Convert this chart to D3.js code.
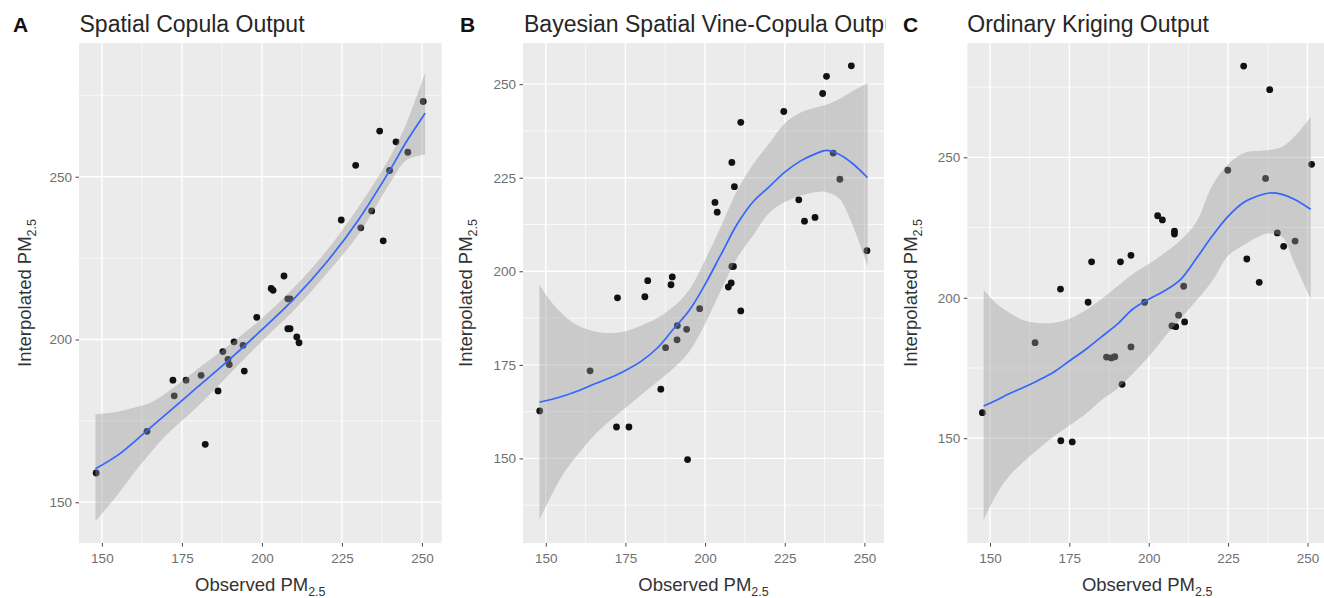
<!DOCTYPE html>
<html><head><meta charset="utf-8">
<script src="https://cdn.jsdelivr.net/npm/d3@7"></script>
<style>body{margin:0;background:#fff}svg{display:block}text{font-family:"Liberation Sans",Arial,sans-serif}</style>
</head><body>
<svg id="chart" width="1324" height="598"></svg>
<script>
// ---------- data ----------
const panelLabels = ["A", "B", "C"];
const panelTitles = ["Spatial Copula Output", "Bayesian Spatial Vine-Copula Output", "Ordinary Kriging Output"];
const xTitle = "Observed PM";
const yTitle = "Interpolated PM";
const subscript = "2.5";
const xTicks = [150, 175, 200, 225, 250];
const xMinor = [162.5, 187.5, 212.5, 237.5];
const xDomain = [142.85, 256.15];

const yTicksA = [150, 200, 250];
const yMinorA = [175, 225, 275];
const yDomainA = [137.5, 291.06];
const yTicksB = [150, 175, 200, 225, 250];
const yMinorB = [137.5, 162.5, 187.5, 212.5, 237.5];
const yDomainB = [127.4, 261];
const yTicksC = [150, 200, 250];
const yMinorC = [125, 175, 225, 275];
const yDomainC = [112.7, 290.7];

// panel A points
const obsA = [148.2,164.1,172.2,172.6,176.3,181.0,182.3,186.3,187.8,189.4,189.8,191.3,194.1,194.5,198.4,202.9,203.5,206.9,208.1,208.8,208.1,208.8,210.9,211.6,224.8,229.3,230.9,234.3,236.8,237.9,239.9,241.9,245.6,250.4];
const interpA = [159.0,171.8,187.5,182.7,187.5,189.0,167.8,184.2,196.3,193.9,192.3,199.3,198.2,190.3,206.8,215.7,215.1,219.5,212.5,212.5,203.3,203.3,200.8,199.0,236.7,253.5,234.3,239.5,264.0,230.3,251.9,260.7,257.5,273.1];
// panel B points
const obsB = [148.1,163.9,172.5,172.2,176.1,182.0,181.1,186.1,189.7,189.3,187.6,191.3,191.2,194.2,194.5,198.3,203.1,203.8,208.4,209.2,211.2,208.4,208.9,208.2,207.3,211.2,224.7,229.4,231.2,234.5,236.9,238.1,240.2,242.3,245.9,250.8];
const interpB = [162.7,173.4,192.9,158.4,158.4,197.5,193.2,168.5,198.5,196.4,179.6,185.5,181.7,184.5,149.7,190.0,218.4,215.8,229.1,222.6,239.8,201.3,201.3,196.9,195.8,189.4,242.7,219.1,213.4,214.4,247.5,252.1,231.6,224.6,254.9,205.5];
// panel C points
const obsC = [147.6,164.2,172.3,175.9,172.2,182.0,180.9,191.1,194.4,186.7,188.2,189.3,191.6,194.4,198.7,202.8,204.3,208.1,208.1,211.0,209.4,211.3,207.3,208.5,224.9,229.9,230.9,234.8,236.8,238.1,240.5,242.5,246.1,251.3];
const interpC = [159.1,184.0,149.1,148.7,203.1,212.8,198.4,212.8,215.1,178.9,178.6,179.0,169.2,182.5,198.4,229.2,227.7,223.7,222.7,204.1,193.8,191.4,190.0,189.7,245.4,282.5,213.8,205.5,242.5,274.1,223.1,218.3,220.2,247.5];

// smooth fits
const smoothXA = [148,155,160,165,170,180,190,200,210,220,230,240,245,251];
const fitA   = [160.3,164.5,168.5,172.8,177,185.5,194,203,212.5,223.5,236.5,252,260.5,269.5];
const upperA = [177,177.8,179,180.5,183.5,191,198.5,206.5,216,227,240.5,256,266,282];
const lowerA = [144.2,152.5,159,165,170.5,179.5,189.5,199.5,209,220,232,248,255,256.8];

const smoothXB = [148,152,156,160,165,170,175,180,185,190,195,200,205,210,215,220,225,230,235,238,242,246,251];
const fitB   = [165,165.8,166.8,168,169.8,171.5,173.5,176,179.5,184.5,189.5,196.5,204.5,212.5,218.5,222.5,226.5,229.5,231.5,232.3,231.3,229,225];
const upperB = [196.4,191.5,188,185.5,184,183.5,184,185.5,187.5,190.5,195,203,212,221.5,228.5,234,239.5,242.4,243.8,244.5,246,248,250.3];
const lowerB = [133.6,140.5,146.5,151,156,160,163.5,167,170.5,174,178.5,186,195,203.5,209.5,215.5,218.5,220.2,221.2,221.2,219.5,213,201.3];

const smoothXC = [148,152,156,160,165,170,175,180,185,190,195,200,205,210,215,220,225,230,235,238,242,246,251];
const fitC   = [161.5,163.5,165.8,167.8,170.5,173.5,177.5,181.5,186,190.5,196,199.5,202.5,206.5,214,222,229,234,236.5,237.3,236.8,235,231.5];
const upperC = [202.8,198,194.8,192.3,191,191,192.5,195.5,199.5,204,208.5,212,216,220.5,227,240,247.5,251.5,252.3,252.6,253.8,257.5,264.4];
const lowerC = [120.9,130,136.5,141,146,150.5,154.5,158.5,163.5,167.5,173,179,186,192.5,199,206,215,218.8,222,223,221.7,212,199.5];

// ---------- layout ----------
const plotTop = 43, plotBottom = 543;
const panels = [
  {left: 79, right: 441.6, cellX: 0, cellW: 445, labelX: 13, titleX: 79.5, yTitleX: 31, yTicks: yTicksA, yMinor: yMinorA, yDomain: yDomainA,
   obs: obsA, interp: interpA, sx: smoothXA, fit: fitA, up: upperA, lo: lowerA},
  {left: 523, right: 884, cellX: 445, cellW: 441, labelX: 460, titleX: 524, yTitleX: 472, yTicks: yTicksB, yMinor: yMinorB, yDomain: yDomainB,
   obs: obsB, interp: interpB, sx: smoothXB, fit: fitB, up: upperB, lo: lowerB},
  {left: 967.3, right: 1327, cellX: 886, cellW: 438, labelX: 903, titleX: 967.3, yTitleX: 917, yTicks: yTicksC, yMinor: yMinorC, yDomain: yDomainC,
   obs: obsC, interp: interpC, sx: smoothXC, fit: fitC, up: upperC, lo: lowerC}
];

const svg = d3.select("#chart");
const defs = svg.append("defs");

panels.forEach((p, i) => {
  defs.append("clipPath").attr("id", "cell" + i)
    .append("rect").attr("x", p.cellX).attr("y", 0).attr("width", p.cellW).attr("height", 598);
  defs.append("clipPath").attr("id", "plot" + i)
    .append("rect").attr("x", p.left).attr("y", plotTop).attr("width", p.right - p.left).attr("height", plotBottom - plotTop);

  const g = svg.append("g").attr("clip-path", `url(#cell${i})`);
  const x = d3.scaleLinear().domain(xDomain).range([p.left, p.right]);
  const y = d3.scaleLinear().domain(p.yDomain).range([plotBottom, plotTop]);

  g.append("rect").attr("x", p.left).attr("y", plotTop).attr("width", p.right - p.left).attr("height", plotBottom - plotTop).attr("fill", "#EBEBEB");
  const pg = g.append("g").attr("clip-path", `url(#plot${i})`);
  pg.selectAll(".mx").data(xMinor).join("line").attr("x1", d => x(d)).attr("x2", d => x(d)).attr("y1", plotTop).attr("y2", plotBottom)
    .attr("stroke", "#fff").attr("stroke-width", 0.7);
  pg.selectAll(".my").data(p.yMinor).join("line").attr("y1", d => y(d)).attr("y2", d => y(d)).attr("x1", p.left).attr("x2", p.right)
    .attr("stroke", "#fff").attr("stroke-width", 0.7);
  pg.selectAll(".Mx").data(xTicks).join("line").attr("x1", d => x(d)).attr("x2", d => x(d)).attr("y1", plotTop).attr("y2", plotBottom)
    .attr("stroke", "#fff").attr("stroke-width", 1.4);
  pg.selectAll(".My").data(p.yTicks).join("line").attr("y1", d => y(d)).attr("y2", d => y(d)).attr("x1", p.left).attr("x2", p.right)
    .attr("stroke", "#fff").attr("stroke-width", 1.4);

  pg.selectAll(".pt").data(p.obs.map((o, k) => [o, p.interp[k]])).join("circle")
    .attr("cx", d => x(d[0])).attr("cy", d => y(d[1])).attr("r", 3.4).attr("fill", "#111");

  const band = p.sx.map((v, k) => ({x: v, lo: p.lo[k], up: p.up[k], fit: p.fit[k]}));
  pg.append("path").datum(band)
    .attr("d", d3.area().x(d => x(d.x)).y0(d => y(d.lo)).y1(d => y(d.up)).curve(d3.curveCatmullRom.alpha(0.5)))
    .attr("fill", "#999999").attr("fill-opacity", 0.4);
  pg.append("path").datum(band)
    .attr("d", d3.line().x(d => x(d.x)).y(d => y(d.fit)).curve(d3.curveCatmullRom.alpha(0.5)))
    .attr("fill", "none").attr("stroke", "#3366FF").attr("stroke-width", 1.7);

  const xa = g.append("g").attr("transform", `translate(0,${plotBottom})`)
    .call(d3.axisBottom(x).tickValues(xTicks).tickSize(3.5).tickPadding(7).tickFormat(d3.format("d")));
  const ya = g.append("g").attr("transform", `translate(${p.left},0)`)
    .call(d3.axisLeft(y).tickValues(p.yTicks).tickSize(3.5).tickPadding(3.5).tickFormat(d3.format("d")));
  [xa, ya].forEach(a => {
    a.select(".domain").remove();
    a.selectAll(".tick line").attr("stroke", "#444").attr("stroke-width", 1);
    a.selectAll(".tick text").attr("fill", "#6f6f6f").attr("font-size", 13.5).attr("font-family", '"Liberation Sans",Arial,sans-serif');
  });

  const xt = g.append("text").attr("x", (p.left + p.right) / 2).attr("y", 590.5).attr("text-anchor", "middle")
    .attr("font-size", 18.5).attr("fill", "#333");
  xt.append("tspan").text(xTitle);
  xt.append("tspan").attr("font-size", 12.5).attr("dy", 5).text(subscript);

  const yt = g.append("text").attr("transform", `translate(${p.yTitleX},${(plotTop + plotBottom) / 2}) rotate(-90)`)
    .attr("text-anchor", "middle").attr("font-size", 18.5).attr("fill", "#333");
  yt.append("tspan").text(yTitle);
  yt.append("tspan").attr("font-size", 12.5).attr("dy", 5).text(subscript);

  g.append("text").attr("x", p.titleX).attr("y", 31.5).attr("font-size", 23).attr("fill", "#262626").text(panelTitles[i]);
  g.append("text").attr("x", p.labelX).attr("y", 31.5).attr("font-size", 21).attr("font-weight", "bold").attr("fill", "#111").text(panelLabels[i]);
});
</script>
</body></html>
